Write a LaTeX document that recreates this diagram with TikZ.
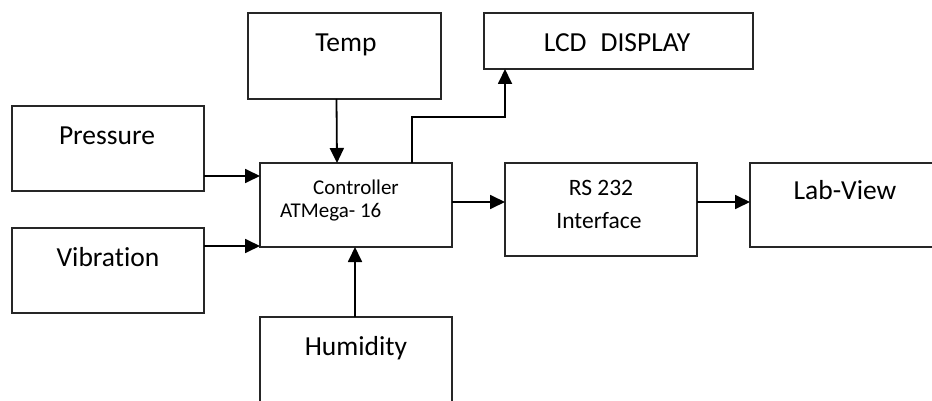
\documentclass[tikz,border=0pt]{standalone}
\usepackage{fontspec}
\setmainfont{Carlito}[Ligatures=NoCommon]
\usetikzlibrary{arrows.meta}
\begin{document}
\begin{tikzpicture}[x=1pt,y=-1pt,
  box/.style={draw=black!85, line width=1.8pt, inner sep=0pt, outer sep=0pt},
  arr/.style={draw=black, line width=1.8pt, -{Triangle[length=15pt,width=14pt]}},
  big/.style={font=\fontsize{27.5}{33}\selectfont, inner sep=0pt, anchor=base},
  mid/.style={font=\fontsize{23.5}{28}\selectfont, inner sep=0pt, anchor=base},
  small/.style={font=\fontsize{21}{25}\selectfont, inner sep=0pt, anchor=base west}]
\useasboundingbox (0,0) rectangle (932,401);
\clip (0,0) rectangle (932,401);
% boxes
\node[box, minimum width=193pt, minimum height=86pt] (temp) at (344.5,56) {};
\node[box, minimum width=269pt, minimum height=56pt] (lcd) at (618.5,41) {};
\node[box, minimum width=192pt, minimum height=85pt] (pres) at (108,148.5) {};
\node[box, minimum width=192pt, minimum height=85pt] (vib) at (108,270.5) {};
\node[box, minimum width=192pt, minimum height=84pt] (ctrl) at (356,205) {};
\node[box, minimum width=192pt, minimum height=93pt] (rs) at (601,209.5) {};
\node[box, minimum width=200pt, minimum height=84pt] (lab) at (850,205) {};
\node[box, minimum width=192pt, minimum height=103pt] (hum) at (356,368.5) {};
% texts
\node[big] (ttemp) at (346,52) {Temp};
\node[big] (tlcd) at (617,52) {LCD\hspace{14pt}DISPLAY};
\node[big] (tpres) at (107,145) {Pressure};
\node[big] (tvib) at (108,266) {Vibration};
\node[big] (thum) at (356,355) {Humidity};
\node[big] (tlab) at (845,200) {Lab-View};
\node[small] (tc1) at (313,194) {Controller};
\node[small] (tc2) at (280,218) {ATMega- 16};
\node[mid] (trs1) at (601,195) {RS 232};
\node[mid] (trs2) at (599,228) {Interface};
% connectors
\draw[arr] ([xshift=-8pt]temp.south) -- ([xshift=-19pt]ctrl.north);
\coordinate (p1) at ([yshift=-27.5pt]pres.east);
\draw[arr] (p1) -- (p1 -| ctrl.west);
\coordinate (v1) at ([yshift=24.5pt]vib.east);
\draw[arr] (v1) -- (v1 -| ctrl.west);
\draw[arr] ([xshift=-1pt]hum.north) -- ([xshift=-1pt]ctrl.south);
\coordinate (c1) at ([xshift=56pt]ctrl.north);
\coordinate (l1) at ([xshift=-113.5pt]lcd.south);
\draw[arr] (c1) -- ++(0,-46) -| (l1);
\coordinate (c2) at ([yshift=3pt]ctrl.east);
\draw[arr] (c2) -- (c2 -| rs.west);
\coordinate (r2) at ([yshift=7.5pt]rs.east);
\draw[arr] (r2) -- (r2 -| lab.west);
\end{tikzpicture}
\end{document}
